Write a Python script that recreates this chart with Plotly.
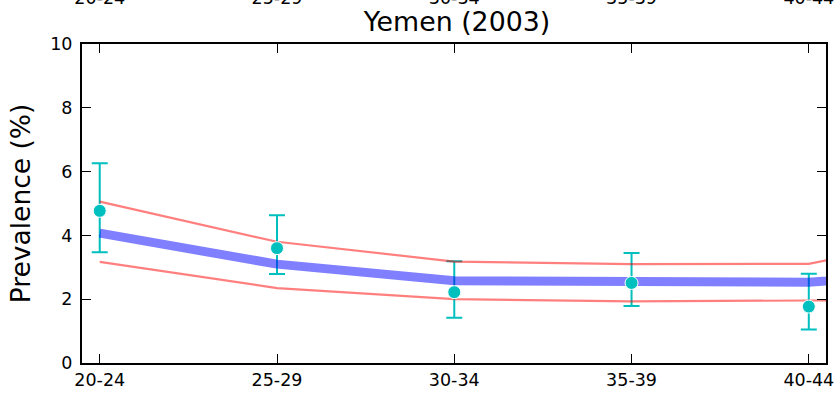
import numpy as np
import plotly.graph_objects as go

# ---- data ----
ages = ["20-24", "25-29", "30-34", "35-39", "40-44", "45-49"]
model_mean = [4.07, 3.10, 2.58, 2.52, 2.53, 2.95]
model_upper = [5.06, 3.80, 3.18, 3.10, 3.11, 4.25]
model_lower = [3.17, 2.35, 2.00, 1.93, 1.96, 1.98]

obs_ages = ["20-24", "25-29", "30-34", "35-39", "40-44"]
obs_value = [4.77, 3.60, 2.22, 2.51, 1.77]
obs_low = [3.47, 2.79, 1.42, 1.79, 1.05]
obs_high = [6.26, 4.63, 3.19, 3.45, 2.80]

y_ticks = [0, 2, 4, 6, 8, 10]
title_text = "Yemen (2003)"
y_title = "Prevalence (%)"

# ---- positions ----
pos = {a: i for i, a in enumerate(ages)}
x_model = [pos[a] for a in ages]
x_obs = [pos[a] for a in obs_ages]
err_plus = [h - v for h, v in zip(obs_high, obs_value)]
err_minus = [v - l for l, v in zip(obs_low, obs_value)]

CYAN = "#00BFBF"
FONT = "DejaVu Sans"

fig = go.Figure()

# error bars (below model line)
fig.add_trace(go.Scatter(
    x=x_obs, y=obs_value, mode="markers",
    marker=dict(size=1, color="rgba(0,0,0,0)"),
    error_y=dict(type="data", array=err_plus, arrayminus=err_minus,
                 color=CYAN, thickness=2, width=8),
    showlegend=False, hoverinfo="skip"))

# model bounds
fig.add_trace(go.Scatter(x=x_model, y=model_upper, mode="lines",
                         line=dict(color="rgba(255,0,0,0.5)", width=2.2),
                         showlegend=False))
fig.add_trace(go.Scatter(x=x_model, y=model_lower, mode="lines",
                         line=dict(color="rgba(255,0,0,0.5)", width=2.2),
                         showlegend=False))
# model mean
fig.add_trace(go.Scatter(x=x_model, y=model_mean, mode="lines",
                         line=dict(color="rgba(0,0,255,0.5)", width=9),
                         showlegend=False))
# observed points
fig.add_trace(go.Scatter(x=x_obs, y=obs_value, mode="markers",
                         marker=dict(size=13, color=CYAN,
                                     line=dict(color="white", width=1)),
                         showlegend=False))
# invisible trace on top axis
fig.add_trace(go.Scatter(x=x_obs, y=obs_value, xaxis="x2", mode="markers",
                         marker=dict(size=1, color="rgba(0,0,0,0)"),
                         showlegend=False, hoverinfo="skip"))

fig.update_layout(
    width=839, height=393,
    margin=dict(l=82, r=13, t=44, b=30),
    paper_bgcolor="white", plot_bgcolor="white",
    font=dict(family=FONT, color="black", size=17.5),
    title=dict(text=title_text, x=457 / 839, xanchor="center",
               y=1 - 22 / 393, yanchor="middle", yref="container",
               font=dict(size=26.8, family=FONT, color="black")),
    xaxis=dict(range=[-0.1, 4.097], tickvals=x_model, ticktext=ages,
               showgrid=False, zeroline=False, automargin=False,
               showline=True, linecolor="black", linewidth=2, mirror="ticks",
               ticks="inside", ticklen=9, tickwidth=1, tickcolor="black",
               tickfont=dict(size=17.5, family=FONT, color="black")),
    xaxis2=dict(overlaying="x", side="top", matches="x",
                tickvals=x_model, ticktext=ages, automargin=False,
                showgrid=False, zeroline=False, showline=False, ticks="",
                ticklabelstandoff=36,
                tickfont=dict(size=17.5, family=FONT, color="black")),
    yaxis=dict(range=[0, 10], tickvals=y_ticks, automargin=False,
               showgrid=False, zeroline=False,
               showline=True, linecolor="black", linewidth=2, mirror="ticks",
               ticks="inside", ticklen=9, tickwidth=1, tickcolor="black",
               ticklabelstandoff=4,
               tickfont=dict(size=17.5, family=FONT, color="black"),
               title=dict(text=y_title, font=dict(size=26.5, family=FONT, color="black"),
                          standoff=12)),
)

fig.write_html("out.html", config={"displayModeBar": False},
               post_script="document.body.style.margin='0';document.body.style.overflow='hidden';")
